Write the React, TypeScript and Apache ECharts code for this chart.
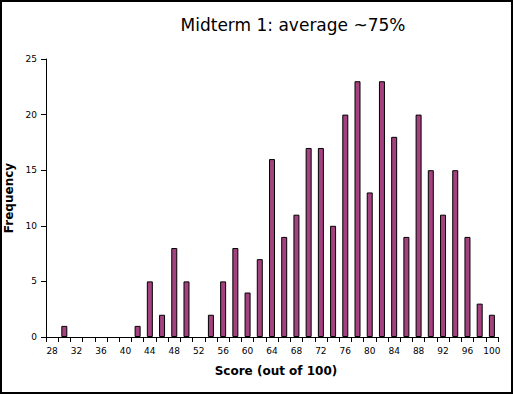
import React, { useEffect, useRef } from "react";
import * as echarts from "echarts";

const scores = [28,30,32,34,36,38,40,42,44,46,48,50,52,54,56,58,60,62,64,66,68,70,72,74,76,78,80,82,84,86,88,90,92,94,96,98,100].map(String);
const frequency = [0,1,0,0,0,0,0,1,5,2,8,5,0,2,5,8,4,7,16,9,11,17,17,10,20,23,13,23,18,9,20,15,11,15,9,3,2];
const yTicks = [0, 5, 10, 15, 20, 25];

const FONT = "DejaVu Sans";

export default function App() {
  const ref = useRef<HTMLDivElement>(null);
  useEffect(() => {
    document.body.style.margin = "0";
    const chart = echarts.init(ref.current!, null, { renderer: "svg" });
    chart.setOption({
      animation: false,
      backgroundColor: "#ffffff",
      title: {
        text: "Midterm 1: average ~75%",
        left: 288,
        top: 11,
        textAlign: "center",
        textStyle: { fontFamily: FONT, fontSize: 17, fontWeight: "normal", color: "#000" },
      },
      grid: { left: 46, right: 15, top: 59, bottom: 57, containLabel: false, outerBoundsMode: "none" },
      xAxis: {
        type: "category",
        data: scores,
        name: "Score (out of 100)",
        nameLocation: "middle",
        nameGap: 28,
        nameTextStyle: { fontFamily: FONT, fontSize: 12, fontWeight: "bold", color: "#000", padding: [0, 0, 0, 8] },
        axisLine: { lineStyle: { color: "#000", width: 1 } },
        axisTick: { show: true, length: 5, interval: 0, lineStyle: { color: "#000" } },
        axisLabel: { interval: 1, fontFamily: FONT, fontSize: 9, color: "#000", margin: 9 },
        splitLine: { show: false },
      },
      yAxis: {
        type: "value",
        min: 0,
        max: yTicks[yTicks.length - 1],
        interval: 5,
        name: "Frequency",
        nameLocation: "middle",
        nameGap: 29,
        nameTextStyle: { fontFamily: FONT, fontSize: 12, fontWeight: "bold", color: "#000" },
        axisLine: { show: true, lineStyle: { color: "#000", width: 1 } },
        axisTick: { show: true, length: 5, lineStyle: { color: "#000" } },
        axisLabel: { fontFamily: FONT, fontSize: 9, color: "#000", margin: 9 },
        splitLine: { show: false },
      },
      series: [
        {
          type: "bar",
          data: frequency.map((v) => (v === 0 ? "-" : v)),
          barWidth: 6,
          itemStyle: { color: "#a3427f", borderColor: "#000", borderWidth: 1 },
        },
      ],
    });
    return () => chart.dispose();
  }, []);
  return (
    <div style={{ width: 513, height: 394, boxSizing: "border-box", border: "2px solid #000", position: "relative", overflow: "hidden" }}>
      <div ref={ref} style={{ position: "absolute", left: -2, top: -2, width: 513, height: 394 }} />
    </div>
  );
}
